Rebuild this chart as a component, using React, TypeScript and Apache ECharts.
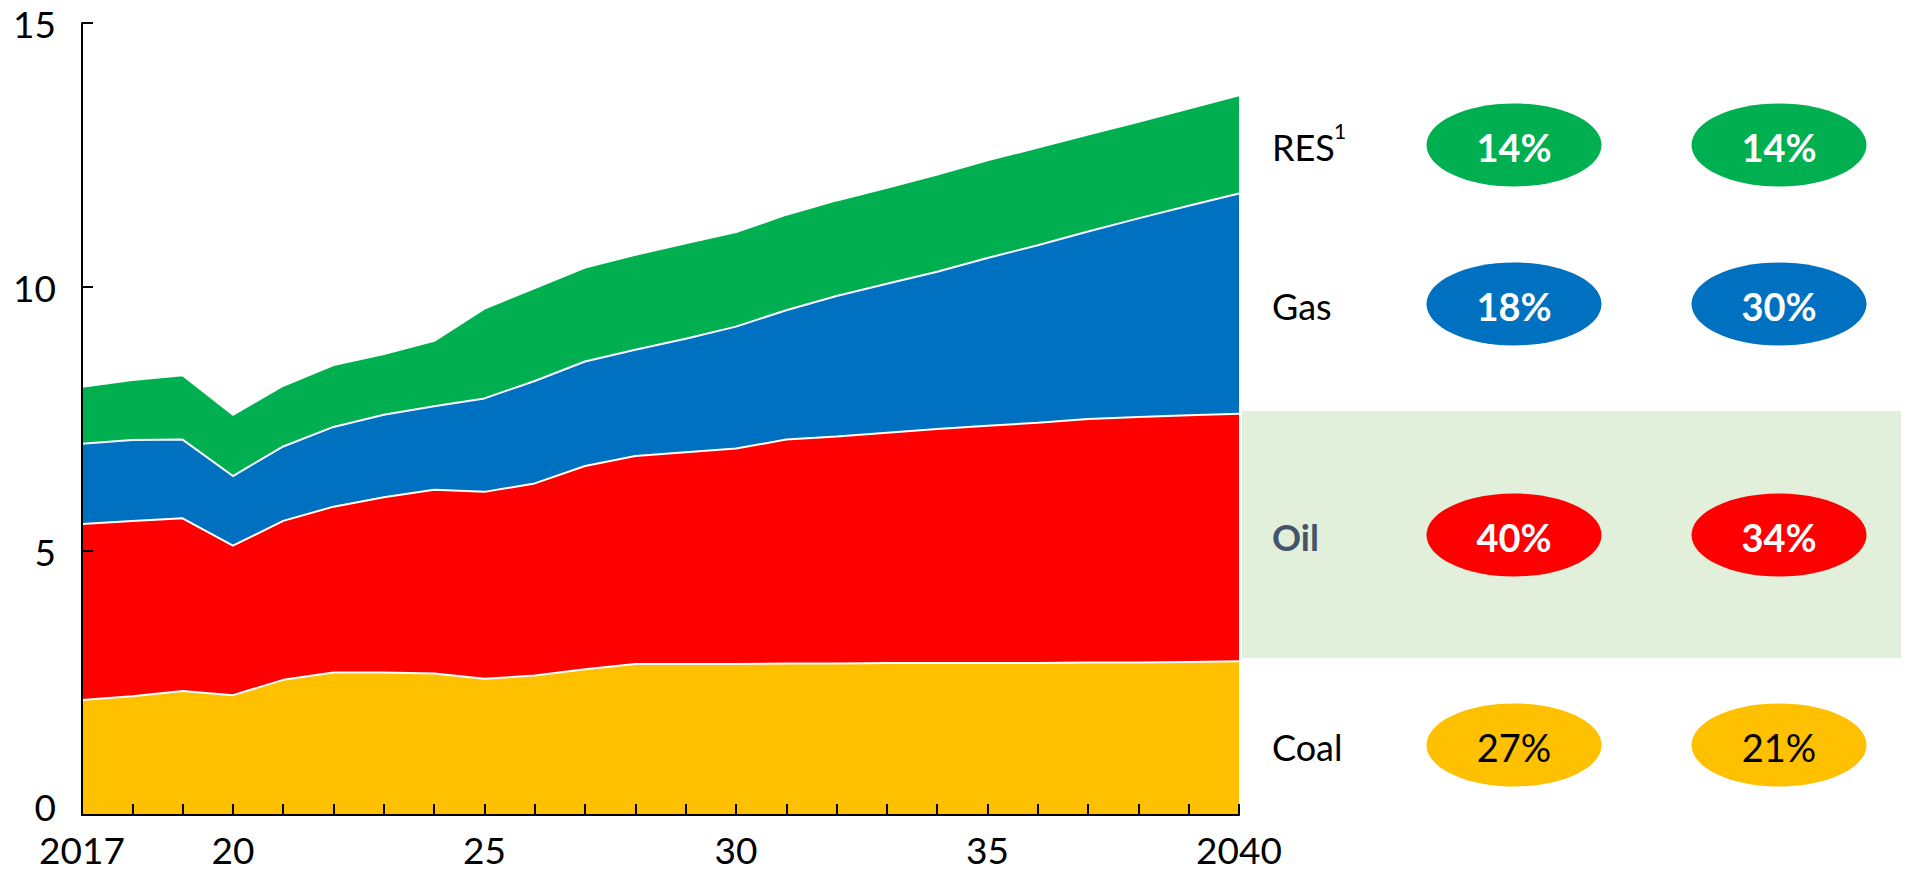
import React, { useEffect, useRef } from "react";
import * as echarts from "echarts";

// ---- data ----
const years = [
  "2017", "2018", "2019", "2020", "2021", "2022", "2023", "2024", "2025", "2026", "2027", "2028",
  "2029", "2030", "2031", "2032", "2033", "2034", "2035", "2036", "2037", "2038", "2039", "2040",
];
const xTickLabels: Record<string, string> = {
  "2017": "2017", "2020": "20", "2025": "25", "2030": "30", "2035": "35", "2040": "2040",
};
const yTicks = [0, 5, 10, 15];

const coal = [2.18, 2.25, 2.35, 2.27, 2.56, 2.7, 2.7, 2.68, 2.58, 2.64, 2.76, 2.86, 2.86, 2.86, 2.87, 2.87, 2.88, 2.88, 2.88, 2.88, 2.89, 2.89, 2.9, 2.91];
const oil = [3.33, 3.32, 3.27, 2.83, 3.01, 3.14, 3.32, 3.48, 3.54, 3.64, 3.85, 3.94, 4.01, 4.08, 4.24, 4.3, 4.36, 4.43, 4.49, 4.55, 4.61, 4.65, 4.67, 4.69];
const gas = [1.52, 1.53, 1.49, 1.32, 1.41, 1.51, 1.56, 1.58, 1.77, 1.94, 1.98, 2.01, 2.15, 2.31, 2.45, 2.66, 2.82, 2.98, 3.18, 3.36, 3.55, 3.76, 3.97, 4.17];
const res = [1.08, 1.14, 1.22, 1.16, 1.15, 1.17, 1.15, 1.24, 1.7, 1.76, 1.78, 1.8, 1.81, 1.79, 1.81, 1.81, 1.82, 1.84, 1.85, 1.85, 1.84, 1.83, 1.84, 1.86];

const rowLabels = ["RES", "Gas", "Oil", "Coal"];
const share2017 = ["14%", "18%", "40%", "27%"];
const share2040 = ["14%", "30%", "34%", "21%"];

const COLORS = { coal: "#FFC000", oil: "#FF0000", gas: "#0070C0", res: "#00B050" };
const FONT = "Lato, 'Noto Sans', sans-serif";

export default function App() {
  const ref = useRef<HTMLDivElement>(null);

  useEffect(() => {
    if (!ref.current) return;
    const chart = echarts.init(ref.current, undefined, { renderer: "svg" });

    const seriesDefs = [
      { name: "Coal", data: coal, color: COLORS.coal },
      { name: "Oil", data: oil, color: COLORS.oil },
      { name: "Gas", data: gas, color: COLORS.gas },
      { name: "RES", data: res, color: COLORS.res },
    ];

    const rowY = [145, 304, 535, 745];
    const rowFill = [COLORS.res, COLORS.gas, COLORS.oil, COLORS.coal];
    const col1 = 1514;
    const col2 = 1779;

    const graphics: any[] = [
      {
        type: "rect",
        shape: { x: 1242, y: 411, width: 659, height: 247 },
        style: { fill: "#E2EFDA" },
        z: 0,
        silent: true,
      },
    ];
    rowLabels.forEach((lab, i) => {
      const isOil = lab === "Oil";
      const isCoal = lab === "Coal";
      graphics.push({
        type: "text",
        x: 1272,
        y: rowY[i] + 2,
        style: {
          text: lab,
          fill: isOil ? "#44546A" : "#000000",
          fontSize: 36,
          fontWeight: isOil ? "bold" : "normal",
          fontFamily: FONT,
          textAlign: "left",
          textVerticalAlign: "middle",
        },
        z: 5,
      });
      if (lab === "RES") {
        graphics.push({
          type: "text",
          x: 1334,
          y: rowY[i] - 15,
          style: {
            text: "1",
            fill: "#000000",
            fontSize: 21,
            fontFamily: FONT,
            textAlign: "left",
            textVerticalAlign: "middle",
          },
          z: 5,
        });
      }
      [col1, col2].forEach((cx, k) => {
        graphics.push({
          type: "ellipse",
          shape: { cx, cy: rowY[i], rx: 87.5, ry: 41.5 },
          style: { fill: rowFill[i] },
          z: 4,
        });
        graphics.push({
          type: "text",
          x: cx,
          y: rowY[i] + 2,
          style: {
            text: k === 0 ? share2017[i] : share2040[i],
            fill: isCoal ? "#000000" : "#FFFFFF",
            fontSize: 38,
            fontWeight: isCoal ? "normal" : "bold",
            fontFamily: FONT,
            textAlign: "center",
            textVerticalAlign: "middle",
          },
          z: 5,
        });
      });
    });

    chart.setOption({
      animation: false,
      backgroundColor: "#ffffff",
      grid: { left: 82, right: 669, top: 23, bottom: 58, containLabel: false },
      xAxis: {
        type: "category",
        data: years,
        boundaryGap: false,
        z: 10,
        axisLine: { show: true, lineStyle: { color: "#000", width: 2 } },
        axisTick: { show: true, inside: true, length: 11, interval: 0, lineStyle: { color: "#000", width: 2 } },
        axisLabel: {
          interval: (idx: number, val: string) => xTickLabels[val] !== undefined,
          formatter: (val: string) => xTickLabels[val] ?? "",
          color: "#000",
          fontSize: 37,
          lineHeight: 30,
          fontFamily: FONT,
          margin: 19,
          showMinLabel: true,
          showMaxLabel: true,
        },
        splitLine: { show: false },
      },
      yAxis: {
        type: "value",
        min: yTicks[0],
        max: yTicks[yTicks.length - 1],
        interval: 5,
        z: 10,
        axisLine: { show: true, lineStyle: { color: "#000", width: 2 } },
        axisTick: { show: true, inside: true, length: 11, lineStyle: { color: "#000", width: 2 } },
        axisLabel: {
          color: "#000",
          fontSize: 37,
          lineHeight: 28,
          fontFamily: FONT,
          margin: 26,
          formatter: (v: number) => (v === 0 ? "{z|0}" : String(v)),
          rich: {
            z: { color: "#000", fontSize: 37, fontFamily: FONT, lineHeight: 28, padding: [0, 0, 18, 0] },
          },
        },
        splitLine: { show: false },
      },
      series: seriesDefs.map((s, i) => ({
        name: s.name,
        type: "line",
        stack: "total",
        data: s.data,
        symbol: "none",
        showSymbol: false,
        z: 8 - i,
        lineStyle: { color: "#ffffff", width: 2 },
        itemStyle: { color: s.color },
        areaStyle: { color: s.color, opacity: 1 },
      })),
      graphic: graphics,
    });

    return () => chart.dispose();
  }, []);

  return (
    <div
      ref={ref}
      style={{ position: "fixed", left: 0, top: 0, width: "1908px", height: "873px", background: "#fff" }}
    />
  );
}
